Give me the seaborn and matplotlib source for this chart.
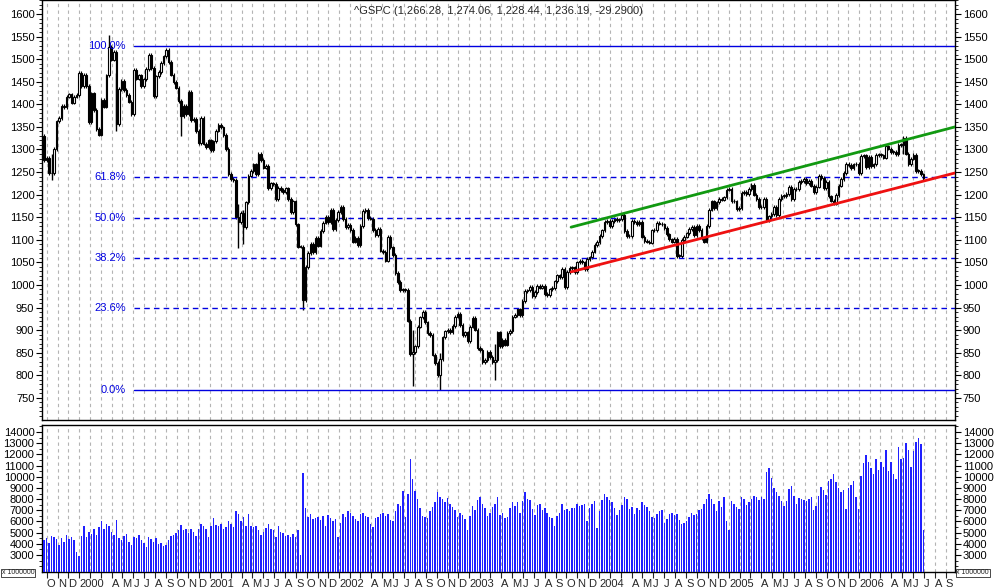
import numpy as np
import pandas as pd
import matplotlib
matplotlib.use("Agg")
import matplotlib.pyplot as plt
import matplotlib.transforms as mtrans
import seaborn as sns

sns.set_style("white")
plt.rcParams['font.family'] = ['Liberation Sans', 'DejaVu Sans']

# weekly closes per year (weeks ending Friday)
close_1999 = [1277, 1282, 1247, 1248, 1301, 1362, 1370, 1396, 1394, 1417, 1422, 1404, 1417, 1421, 1469]
close_2000 = [1441, 1465, 1441, 1360, 1424, 1387, 1346, 1333, 1409, 1395, 1464, 1527, 1499, 1516, 1356, 1434,
              1452, 1432, 1421, 1406, 1378, 1477, 1457, 1464, 1441, 1455, 1478, 1510, 1481, 1419, 1462, 1471,
              1491, 1506, 1520, 1494, 1466, 1449, 1437, 1408, 1374, 1396, 1379, 1427, 1365, 1367, 1341, 1315,
              1370, 1313, 1305, 1320]
close_2001 = [1298, 1318, 1342, 1355, 1349, 1332, 1301, 1246, 1234, 1233, 1150, 1140, 1160, 1128, 1183, 1242,
              1253, 1267, 1245, 1291, 1277, 1260, 1264, 1214, 1225, 1224, 1191, 1215, 1210, 1205, 1214, 1190,
              1161, 1185, 1134, 1085, 1085, 966, 1040, 1071, 1091, 1073, 1104, 1087, 1120, 1138, 1150, 1139,
              1167, 1123, 1144, 1161]
close_2002 = [1173, 1146, 1128, 1133, 1122, 1096, 1104, 1089, 1131, 1164, 1166, 1148, 1147, 1122, 1111, 1125,
              1076, 1073, 1054, 1106, 1083, 1067, 1027, 1007, 989, 990, 989, 921, 847, 852, 864, 908,
              928, 940, 917, 893, 889, 846, 827, 800, 835, 884, 897, 900, 895, 909, 930, 936, 912, 889, 895, 875]
close_2003 = [908, 927, 901, 861, 856, 829, 834, 851, 841, 829, 833, 895, 864, 878, 868, 893,
              898, 930, 933, 946, 933, 964, 987, 988, 995, 976, 985, 998, 994, 998, 980, 977,
              990, 993, 1008, 1021, 1018, 1036, 996, 1029, 1038, 1039, 1028, 1050, 1053, 1050, 1035, 1058,
              1061, 1074, 1088, 1095]
close_2004 = [1108, 1121, 1139, 1141, 1131, 1142, 1146, 1144, 1145, 1156, 1120, 1109, 1108, 1141, 1139, 1134,
              1140, 1107, 1098, 1096, 1094, 1121, 1122, 1137, 1136, 1134, 1126, 1112, 1101, 1096, 1102, 1064,
              1064, 1099, 1107, 1114, 1124, 1129, 1110, 1131, 1122, 1103, 1096, 1130, 1167, 1185, 1171, 1183,
              1191, 1189, 1194, 1211, 1212]
close_2005 = [1186, 1185, 1168, 1171, 1203, 1206, 1201, 1212, 1222, 1200, 1190, 1172, 1173, 1191, 1143, 1152,
              1157, 1172, 1154, 1190, 1198, 1197, 1201, 1217, 1191, 1212, 1212, 1228, 1230, 1234, 1226, 1230,
              1220, 1205, 1218, 1241, 1237, 1215, 1229, 1196, 1187, 1180, 1199, 1220, 1235, 1248, 1268, 1265,
              1259, 1267, 1268, 1248]
close_2006 = [1285, 1287, 1261, 1284, 1264, 1267, 1288, 1289, 1287, 1282, 1307, 1302, 1295, 1295, 1289, 1311,
              1310, 1325, 1291, 1267, 1280, 1288, 1253, 1252, 1245, 1236]

# weekly high / low extremes (notable spikes); other weeks use the body
spike_dates = ["1999-10-15", "2000-03-24", "2000-04-14", "2000-10-13", "2001-03-23", "2001-04-06",
               "2001-09-21", "2002-07-26", "2002-10-11", "2003-03-14", "2006-05-05"]
spike_high = [1290, 1553, 1470, 1410, 1180, 1165, 1040, 900, 850, 870, 1326]
spike_low = [1233, 1480, 1340, 1330, 1082, 1090, 945, 776, 768, 790, 1290]

vol_1999 = [4300, 4500, 4100, 4700, 4600, 4400, 3900, 4500, 4200, 4800, 4400, 4600, 4300, 3300, 2900]
vol_2000 = [4700, 5600, 4600, 5100, 4900, 5300, 4800, 5500, 6000, 5300, 5800, 5600, 5100, 4800, 6100, 4500,
            4300, 4700, 4900, 4200, 3900, 4600, 4500, 4800, 4300, 4100, 3700, 4600, 4400, 4200, 4500, 4000,
            4100, 3800, 3900, 4300, 4700, 4800, 5000, 5200, 5700, 5200, 5300, 5000, 5300, 5100, 4700, 5300,
            5800, 5600, 5300, 4600]
vol_2001 = [5600, 6300, 5700, 5600, 5800, 5300, 5500, 6000, 5800, 5500, 6900, 6700, 6000, 6400, 5600, 6700,
            5600, 5500, 5600, 5200, 4800, 5100, 5400, 5800, 5300, 5200, 4600, 5600, 5100, 5000, 4700, 4800,
            4600, 4900, 4600, 5200, 3000, 10300, 7200, 6400, 6700, 6200, 6300, 6400, 6100, 6500, 5600, 6600,
            6300, 6000, 6200, 4600]
vol_2002 = [5900, 6700, 6400, 6900, 6800, 6500, 6200, 6000, 6700, 6800, 6500, 6400, 5800, 5500, 6300, 6400,
            6700, 6800, 6500, 6700, 6100, 6000, 6900, 7600, 7400, 8700, 6400, 8500, 11600, 9800, 8700, 8000,
            7200, 6500, 6400, 6300, 6900, 7300, 7700, 8600, 8200, 8000, 7700, 8100, 7600, 7300, 7000, 6400,
            6800, 6600, 6200, 5200]
vol_2003 = [6500, 7400, 7000, 7900, 8200, 7600, 7200, 6500, 6800, 7300, 7600, 8200, 6600, 6800, 6300, 6400,
            7200, 7700, 7400, 7700, 6800, 7800, 8600, 8000, 7900, 7100, 6600, 7500, 7600, 7000, 7200, 6800,
            6400, 6300, 5600, 6500, 6800, 7600, 7000, 7100, 6900, 7200, 7200, 7600, 7400, 7500, 7600, 6000,
            7200, 7600, 7800, 5400]
vol_2004 = [6900, 7900, 8500, 8200, 7900, 7700, 7200, 6600, 7000, 7500, 8200, 8000, 7100, 7300, 6700, 7200,
            7000, 7700, 7500, 7300, 6900, 6400, 6300, 6700, 6900, 7000, 5900, 6200, 6700, 6800, 6600, 6700,
            6100, 5800, 5900, 6000, 6400, 6800, 6600, 6700, 7000, 7100, 7600, 8000, 8500, 8000, 7600, 6900,
            7800, 7300, 8200, 6000, 5200]
vol_2005 = [7800, 7600, 7300, 7100, 8200, 8000, 7500, 7700, 8000, 8300, 8200, 7900, 8200, 8000, 10400, 10800,
            9900, 9000, 8600, 8300, 7800, 7400, 7800, 8900, 9200, 8300, 7600, 8100, 8000, 7900, 7800, 8000,
            8200, 7000, 7400, 8300, 9100, 8800, 8400, 9600, 9800, 10200, 9500, 9000, 8600, 8800, 7100, 9000,
            9300, 9600, 8200, 7100]
vol_2006 = [10100, 11200, 11900, 11300, 10800, 10200, 11600, 10600, 11300, 10900, 12400, 10500, 11300, 10200, 9800, 12700,
            11600, 11700, 13000, 12400, 10900, 12300, 13100, 13500, 12900, 5200]

close = np.array(close_1999 + close_2000 + close_2001 + close_2002 + close_2003 + close_2004 + close_2005 + close_2006, float)
volume = np.array(vol_1999 + vol_2000 + vol_2001 + vol_2002 + vol_2003 + vol_2004 + vol_2005 + vol_2006, float)
first_open = 1330.0

dates = pd.date_range("1999-09-24", periods=len(close), freq="W-FRI")
vdates = pd.date_range("1999-09-24", periods=len(volume), freq="W-FRI")
opens = np.concatenate([[first_open], close[:-1]])

fib_pct = ["100.0%", "61.8%", "50.0%", "38.2%", "23.6%", "0.0%"]
fib_val = [1530, 1239, 1149, 1059, 948, 768]
green_x = pd.to_datetime(["2003-10-14", "2006-09-27"]); green_y = [1128, 1350]
red_x = pd.to_datetime(["2003-10-14", "2006-09-27"]); red_y = [1029, 1248]
title = "^GSPC (1,266.28, 1,274.06, 1,228.44, 1,236.19, -29.2900)"

fig = plt.figure(figsize=(9.94, 5.87), dpi=100)
ax = fig.add_axes([42/994, 1-420/587, 913/994, 420/587])
axv = fig.add_axes([42/994, 15/587, 913/994, 147/587], sharex=ax)

xmin, xmax = pd.Timestamp("1999-09-18"), pd.Timestamp("2006-09-27")
months = pd.date_range("1999-10-01", "2006-09-01", freq="MS")
for a in (ax, axv):
    for m in months:
        a.axvline(m, color="#b4b4b4", lw=0.8, ls=(0, (3, 3)), zorder=0)

up = close >= opens
body_lo = np.minimum(opens, close)
body_hi = np.maximum(opens, close)
body_h = np.maximum(body_hi - body_lo, 1.5)
# wicks: spike weeks
sd = pd.to_datetime(spike_dates)
ax.vlines(sd, spike_low, spike_high, color="black", lw=1, zorder=2)
ax.vlines(dates, body_lo - 4, body_hi + 4, color="black", lw=0.8, zorder=2)
ax.bar(dates[up], body_h[up], bottom=body_lo[up], width=4.5, color="white", edgecolor="black", lw=0.8, zorder=3)
ax.bar(dates[~up], body_h[~up], bottom=body_lo[~up], width=4.5, color="black", edgecolor="black", lw=0.8, zorder=3)

tr = mtrans.blended_transform_factory(ax.transAxes, ax.transData)
for lab, v in zip(fib_pct, fib_val):
    ls = "-" if lab in ("100.0%", "0.0%") else (0, (4, 3))
    ax.plot([92/913, 1], [v, v], transform=tr, color="#0000e0", lw=1, ls=ls, zorder=2)
    ax.text(84/913, v, lab, transform=tr, color="#0000e0", fontsize=8, ha="right", va="center")

sns.lineplot(x=green_x, y=green_y, ax=ax, color="#119911", lw=2, zorder=4)
sns.lineplot(x=red_x, y=red_y, ax=ax, color="#ee1111", lw=2, zorder=4)
ax.text(0.5, 0.985, title, transform=ax.transAxes, ha="center", va="top", fontsize=8)

vb = axv.bar(vdates, volume, width=4.2, color="#2020ff", lw=0, zorder=3)
for p in vb:
    p.set_antialiased(False)

ax.set_ylim(701, 1631)
axv.set_ylim(1480, 14626)
ax.set_xlim(xmin, xmax)

for a in (ax, axv):
    for s in a.spines.values():
        s.set_color("black"); s.set_linewidth(1)
    a.tick_params(axis="y", which="both", left=True, right=True, labelleft=True, labelright=True,
                  direction="out", labelsize=8, length=4, colors="black", pad=1.5)
    a.tick_params(axis="y", which="minor", length=2)
ax.set_yticks(np.arange(750, 1601, 50))
ax.set_yticks(np.arange(710, 1631, 10), minor=True)
axv.set_yticks(np.arange(3000, 14001, 1000))
axv.set_yticks(np.arange(2000, 14601, 500), minor=True)
ax.tick_params(axis="x", labelbottom=False, bottom=False)

labels = []
for m in months:
    if m.month == 1:
        labels.append(str(m.year))
    elif m.month in (2, 3):
        labels.append("")
    else:
        labels.append(m.strftime("%b")[0])
axv.set_xticks(months)
axv.set_xticklabels(labels, ha="left", fontsize=8)
axv.tick_params(axis="x", bottom=True, length=4, direction="out", pad=1)

for xa in (0.0, 1.0):
    fig.text(xa * 0.96 + 0.002, 15/587 - 0.004, "x 1000000", fontsize=5,
             bbox=dict(fc="white", ec="black", lw=0.5, pad=0.5))

fig.savefig("out.png", dpi=100)
